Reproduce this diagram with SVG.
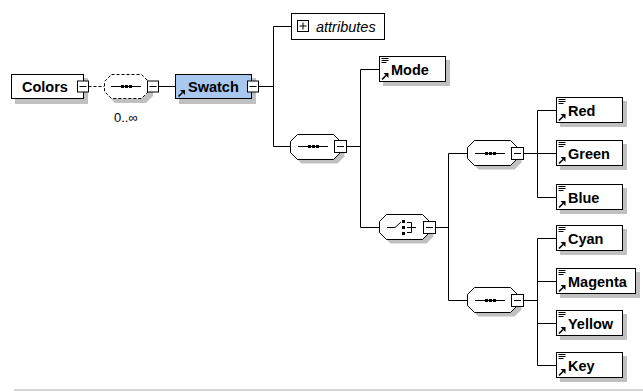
<svg xmlns="http://www.w3.org/2000/svg" width="643" height="392" viewBox="0 0 643 392">
<style>
.box{fill:#fff;stroke:#000;stroke-width:1}
.sel{fill:#a9c8f0;stroke:#000;stroke-width:1}
.shd{fill:#c0c0c0;stroke:none}
.oct{fill:#fff;stroke:#000;stroke-width:1}
.dash{fill:#fff;stroke:#000;stroke-width:1;stroke-dasharray:3 2}
.ln{fill:none;stroke:#000;stroke-width:1}
.lnd{fill:none;stroke:#000;stroke-width:1;stroke-dasharray:3 2}
.t{font-family:"Liberation Sans",Arial,sans-serif;font-weight:bold;font-size:14.5px;fill:#000}
.ti{font-family:"Liberation Sans",Arial,sans-serif;font-style:italic;font-size:14.5px;fill:#000}
.tn{font-family:"Liberation Sans",Arial,sans-serif;font-size:13px;fill:#000}
</style>
<defs>
<path id="octs" d="M11,4 H47 L54,11 V22 L47,29 H11 L4,22 V11 Z"/>
<path id="octo" d="M7,0 H43 L50,7 V18 L43,25 H7 L0,18 V7 Z"/>
<g id="m13"><rect x="0" y="0" width="12" height="12" fill="#fff" stroke="#000"/><path d="M2.5,6 H9.5" stroke="#000"/></g>
<g id="m11"><rect x="0" y="0" width="11" height="11" fill="#fff" stroke="#000"/><path d="M2,5.5 H9" stroke="#000"/></g>
<g id="seqico"><path d="M0,0.5 H30" stroke="#000"/><rect x="10" y="-1" width="3" height="3" fill="#000"/><rect x="14" y="-1" width="3" height="3" fill="#000"/><rect x="18" y="-1" width="3" height="3" fill="#000"/></g>
<g id="lines"><path d="M0,0.5 H7 M0,2.5 H7 M0,4.5 H5" stroke="#000" fill="none"/></g>
<g id="ref"><path d="M0.5,6.5 L4.5,2.5" stroke="#000" stroke-width="1.6"/><path d="M2,0 H7 V5 Z" fill="#000"/></g>
</defs>

<g id="connectors">
<path class="lnd" d="M88.5,86.5 H104.5"/>
<path class="ln" d="M158.5,86.5 H175.5"/>
<path class="ln" d="M258.5,86.5 H273.5 M273.5,26.5 V146.5 M273.5,26.5 H291.5 M273.5,146.5 H290.5"/>
<path class="ln" d="M346.5,146.5 H360.5 M360.5,69.5 V227.5 M360.5,69.5 H379.5 M360.5,227.5 H379.5"/>
<path class="ln" d="M435.5,227.5 H448.5 M448.5,153.5 V300.5 M448.5,153.5 H467.5 M448.5,300.5 H467.5"/>
<path class="ln" d="M523.5,153.5 H537.5 M537.5,110.5 V197.5 M537.5,110.5 H556.5 M537.5,153.5 H556.5 M537.5,197.5 H556.5"/>
<path class="ln" d="M523.5,300.5 H537.5 M537.5,238.5 V365.5 M537.5,238.5 H556.5 M537.5,281.5 H556.5 M537.5,323.5 H556.5 M537.5,365.5 H556.5"/>
</g>

<g id="node-colors">
<rect class="shd" x="15" y="78" width="73" height="26"/>
<rect class="box" x="11.5" y="74.5" width="72" height="24"/>
<text class="t" x="22" y="92">Colors</text>
<use href="#m11" x="77.5" y="81"/>
</g>

<g id="node-seq0">
<path fill="#c0c0c0" d="M115,78 H146 L153,85 V96 L146,103 H115 L108,96 V85 Z"/>
<path class="dash" d="M111.5,74.5 H141.5 L148.5,81.5 V91.5 L141.5,98.5 H111.5 L104.5,91.5 V81.5 Z"/>
<use href="#seqico" x="111" y="86"/>
<use href="#m11" x="147.5" y="81"/>
<text class="tn" x="114" y="122">0..∞</text>
</g>

<g id="node-swatch">
<rect class="shd" x="179" y="78" width="77" height="26"/>
<rect class="sel" x="175.5" y="74.5" width="76" height="24"/>
<use href="#ref" x="178" y="90"/>
<text class="t" x="188" y="92">Swatch</text>
<use href="#m11" x="247.5" y="81"/>
</g>

<g id="node-attributes">
<rect class="box" x="291.5" y="13.5" width="93" height="26"/>
<rect x="297.5" y="20.5" width="11" height="11" fill="#fff" stroke="#000"/>
<path class="ln" d="M299.5,26 H306.5 M303,22.5 V29.5"/>
<text class="ti" x="316" y="31.5">attributes</text>
</g>

<g id="node-seq1">
<use href="#octs" x="290.5" y="134.5" fill="#c0c0c0"/>
<use href="#octo" x="290.5" y="134.5" fill="#fff" stroke="#000"/>
<use href="#seqico" x="298" y="146"/>
<use href="#m13" x="334.5" y="140.5"/>
</g>

<g id="node-mode">
<rect class="shd" x="383" y="60" width="67" height="26"/>
<rect class="box" x="379.5" y="56.5" width="66" height="25"/>
<use href="#lines" x="381.5" y="58"/>
<use href="#ref" x="381.5" y="73"/>
<text class="t" x="391" y="74.5">Mode</text>
</g>

<g id="node-choice">
<use href="#octs" x="379.5" y="214.5" fill="#c0c0c0"/>
<use href="#octo" x="379.5" y="214.5" fill="#fff" stroke="#000"/>
<path class="ln" d="M387,227.5 H395 L401,222 M407,222.5 H411.5 V232.5 H407 M407,227.5 H416"/>
<rect x="402" y="220" width="3" height="3" fill="#000"/>
<rect x="402" y="226" width="3" height="3" fill="#000"/>
<rect x="402" y="232" width="3" height="3" fill="#000"/>
<use href="#m13" x="423.5" y="221.5"/>
</g>

<g id="node-seq2">
<use href="#octs" x="467.5" y="140.5" fill="#c0c0c0"/>
<use href="#octo" x="467.5" y="140.5" fill="#fff" stroke="#000"/>
<use href="#seqico" x="475" y="153"/>
<use href="#m13" x="511.5" y="147.5"/>
</g>

<g id="node-seq3">
<use href="#octs" x="467.5" y="287.5" fill="#c0c0c0"/>
<use href="#octo" x="467.5" y="287.5" fill="#fff" stroke="#000"/>
<use href="#seqico" x="475" y="300"/>
<use href="#m13" x="511.5" y="294.5"/>
</g>

<g id="node-red">
<rect class="shd" x="560" y="101" width="67" height="26"/>
<rect class="box" x="556.5" y="97.5" width="66" height="25"/>
<use href="#lines" x="558.5" y="99"/>
<use href="#ref" x="558.5" y="114"/>
<text class="t" x="568" y="115.5">Red</text>
</g>

<g id="node-green">
<rect class="shd" x="560" y="144" width="67" height="26"/>
<rect class="box" x="556.5" y="140.5" width="66" height="25"/>
<use href="#lines" x="558.5" y="142"/>
<use href="#ref" x="558.5" y="157"/>
<text class="t" x="568" y="158.5">Green</text>
</g>

<g id="node-blue">
<rect class="shd" x="560" y="188" width="67" height="26"/>
<rect class="box" x="556.5" y="184.5" width="66" height="25"/>
<use href="#lines" x="558.5" y="186"/>
<use href="#ref" x="558.5" y="201"/>
<text class="t" x="568" y="202.5">Blue</text>
</g>

<g id="node-cyan">
<rect class="shd" x="560" y="229" width="67" height="26"/>
<rect class="box" x="556.5" y="225.5" width="66" height="25"/>
<use href="#lines" x="558.5" y="227"/>
<use href="#ref" x="558.5" y="242"/>
<text class="t" x="568" y="243.5">Cyan</text>
</g>

<g id="node-magenta">
<rect class="shd" x="560" y="272" width="80" height="26"/>
<rect class="box" x="556.5" y="268.5" width="79" height="25"/>
<use href="#lines" x="558.5" y="270"/>
<use href="#ref" x="558.5" y="285"/>
<text class="t" x="568" y="286.5">Magenta</text>
</g>

<g id="node-yellow">
<rect class="shd" x="560" y="314" width="67" height="26"/>
<rect class="box" x="556.5" y="310.5" width="66" height="25"/>
<use href="#lines" x="558.5" y="312"/>
<use href="#ref" x="558.5" y="327"/>
<text class="t" x="568" y="328.5">Yellow</text>
</g>

<g id="node-key">
<rect class="shd" x="560" y="356" width="67" height="26"/>
<rect class="box" x="556.5" y="352.5" width="66" height="25"/>
<use href="#lines" x="558.5" y="354"/>
<use href="#ref" x="558.5" y="369"/>
<text class="t" x="568" y="370.5">Key</text>
</g>

<path d="M14,390 H643" stroke="#d6d6d6" stroke-width="2" fill="none"/>
</svg>
